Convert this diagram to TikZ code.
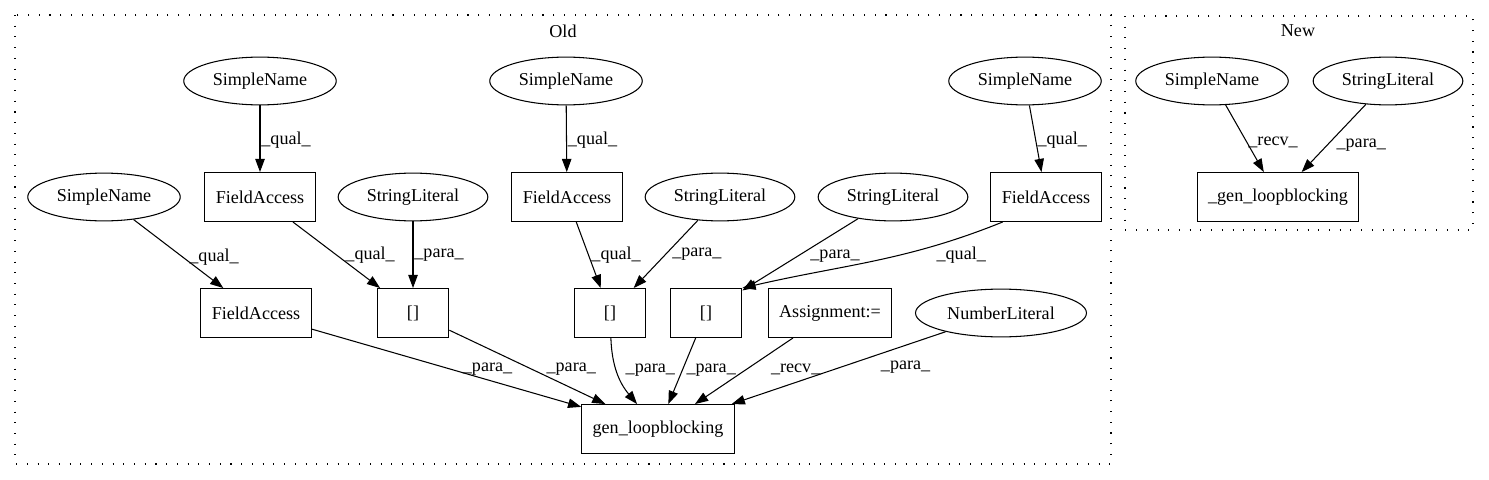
\documentclass[tikz,border=0pt]{standalone}
\usepackage{fontspec}
\setmainfont{Liberation Serif}
\usetikzlibrary{arrows.meta, positioning, shapes}

\begin{document}
\begin{tikzpicture}[->,>={Triangle[length=7.5pt,width=5.4pt]}, x=0.02cm, y=-0.02cm,
   line width=0.6pt, font=\fontsize{10.3}{12}\selectfont,
   oval/.style={ellipse,draw,inner xsep=3.8pt,inner ysep=0pt,minimum height=27.2pt},
   sqr/.style={rectangle,draw,inner xsep=6.2pt,inner ysep=0pt,minimum width=40.8pt,minimum height=27.8pt},
   lbl/.style={inner sep=0pt},
   cluster/.style={-,dash pattern=on 0.6pt off 5.5pt}]

   \useasboundingbox (0,0) rectangle (1489,480);

   % Clusters
      \draw[cluster] (15,15) rectangle (1111,464);
      \draw[cluster] (1125,16) rectangle (1473,230);
      \node (oldt) at (563,31)  {Old};
      \node (newt) at (1298,31) {New};

   % Nodes (old)
      \node[oval] (snam1) at (260,81)   {SimpleName};
      \node[oval] (snam2) at (566,81)   {SimpleName};
      \node[oval] (snam3) at (1025,81)  {SimpleName};
      \node[oval] (snam0) at (104,197)  {SimpleName};
      \node[sqr]  (facc1) at (260,197)  {FieldAccess};
      \node[oval] (strl1) at (413,197)  {StringLiteral};
      \node[sqr]  (facc2) at (567,197)  {FieldAccess};
      \node[oval] (strl2) at (720,197)  {StringLiteral};
      \node[oval] (strl3) at (893,197)  {StringLiteral};
      \node[sqr]  (facc3) at (1046,197) {FieldAccess};
      \node[sqr]  (facc0) at (256,313)  {FieldAccess};
      \node[sqr]  (brk1)  at (413,313)  {[]};
      \node[sqr]  (brk2)  at (610,313)  {[]};
      \node[sqr]  (brk3)  at (706,313)  {[]};
      \node[sqr]  (asgn)  at (830,313)  {Assignment:=};
      \node[oval] (nlit)  at (1001,313) {NumberLiteral};
      \node[sqr]  (gen)   at (658,429)  {gen\_loopblocking};

   % Nodes (new)
      \node[oval] (snam4) at (1212,81)  {SimpleName};
      \node[oval] (strl4) at (1388,81)  {StringLiteral};
      \node[sqr]  (ngen)  at (1278,197) {\_gen\_loopblocking};

   % Paths (old)
      \path (snam1) edge node[lbl,pos=.52,right=0.5pt] {\_qual\_} (facc1);
      \path (snam2) edge node[lbl,pos=.52,right=0.5pt] {\_qual\_} (facc2);
      \path (snam3) edge node[lbl,pos=.52,right=0.8pt] {\_qual\_} (facc3);
      \path (snam0) edge node[lbl,pos=.55,right=3.4pt] {\_qual\_} (facc0);
      \path (facc1) edge node[lbl,pos=.5,right=4.8pt]  {\_qual\_} (brk1);
      \path (strl1) edge node[lbl,pos=.5,right=0.5pt]  {\_para\_} (brk1);
      \path (facc2) edge node[lbl,pos=.5,right=1.4pt]  {\_qual\_} (brk2);
      \path (strl2) edge node[lbl,pos=.5,right=3.4pt]  {\_para\_} (brk2);
      \path (strl3) edge node[lbl,pos=.52,right=6.8pt] {\_para\_} (brk3);
      \path (facc3.-150) edge[out=-158,in=13] node[lbl,pos=.15,below=5pt] {\_qual\_} (brk3.north east);
      \path (facc0) edge node[lbl,pos=.52,right=6pt]   {\_para\_} (gen);
      \path (brk1)  edge node[lbl,pos=.53,right=8pt]   {\_para\_} (gen);
      \path (brk2)  edge[out=-88,in=130] node[lbl,pos=.45,right=5pt] {\_para\_} (gen);
      \path (brk3)  edge node[lbl,pos=.48,right=2pt]   {\_para\_} (gen);
      \path (asgn)  edge node[lbl,pos=.48,right=14pt]  {\_recv\_} (gen);
      \path (nlit)  edge node[lbl,pos=.305,below right=4pt and 0pt] {\_para\_} (gen);

   % Paths (new)
      \path (snam4) edge node[lbl,pos=.56,right=0.5pt] {\_recv\_} (ngen);
      \path (strl4) edge node[lbl,pos=.6,right=5pt]    {\_para\_} (ngen);
\end{tikzpicture}
\end{document}
